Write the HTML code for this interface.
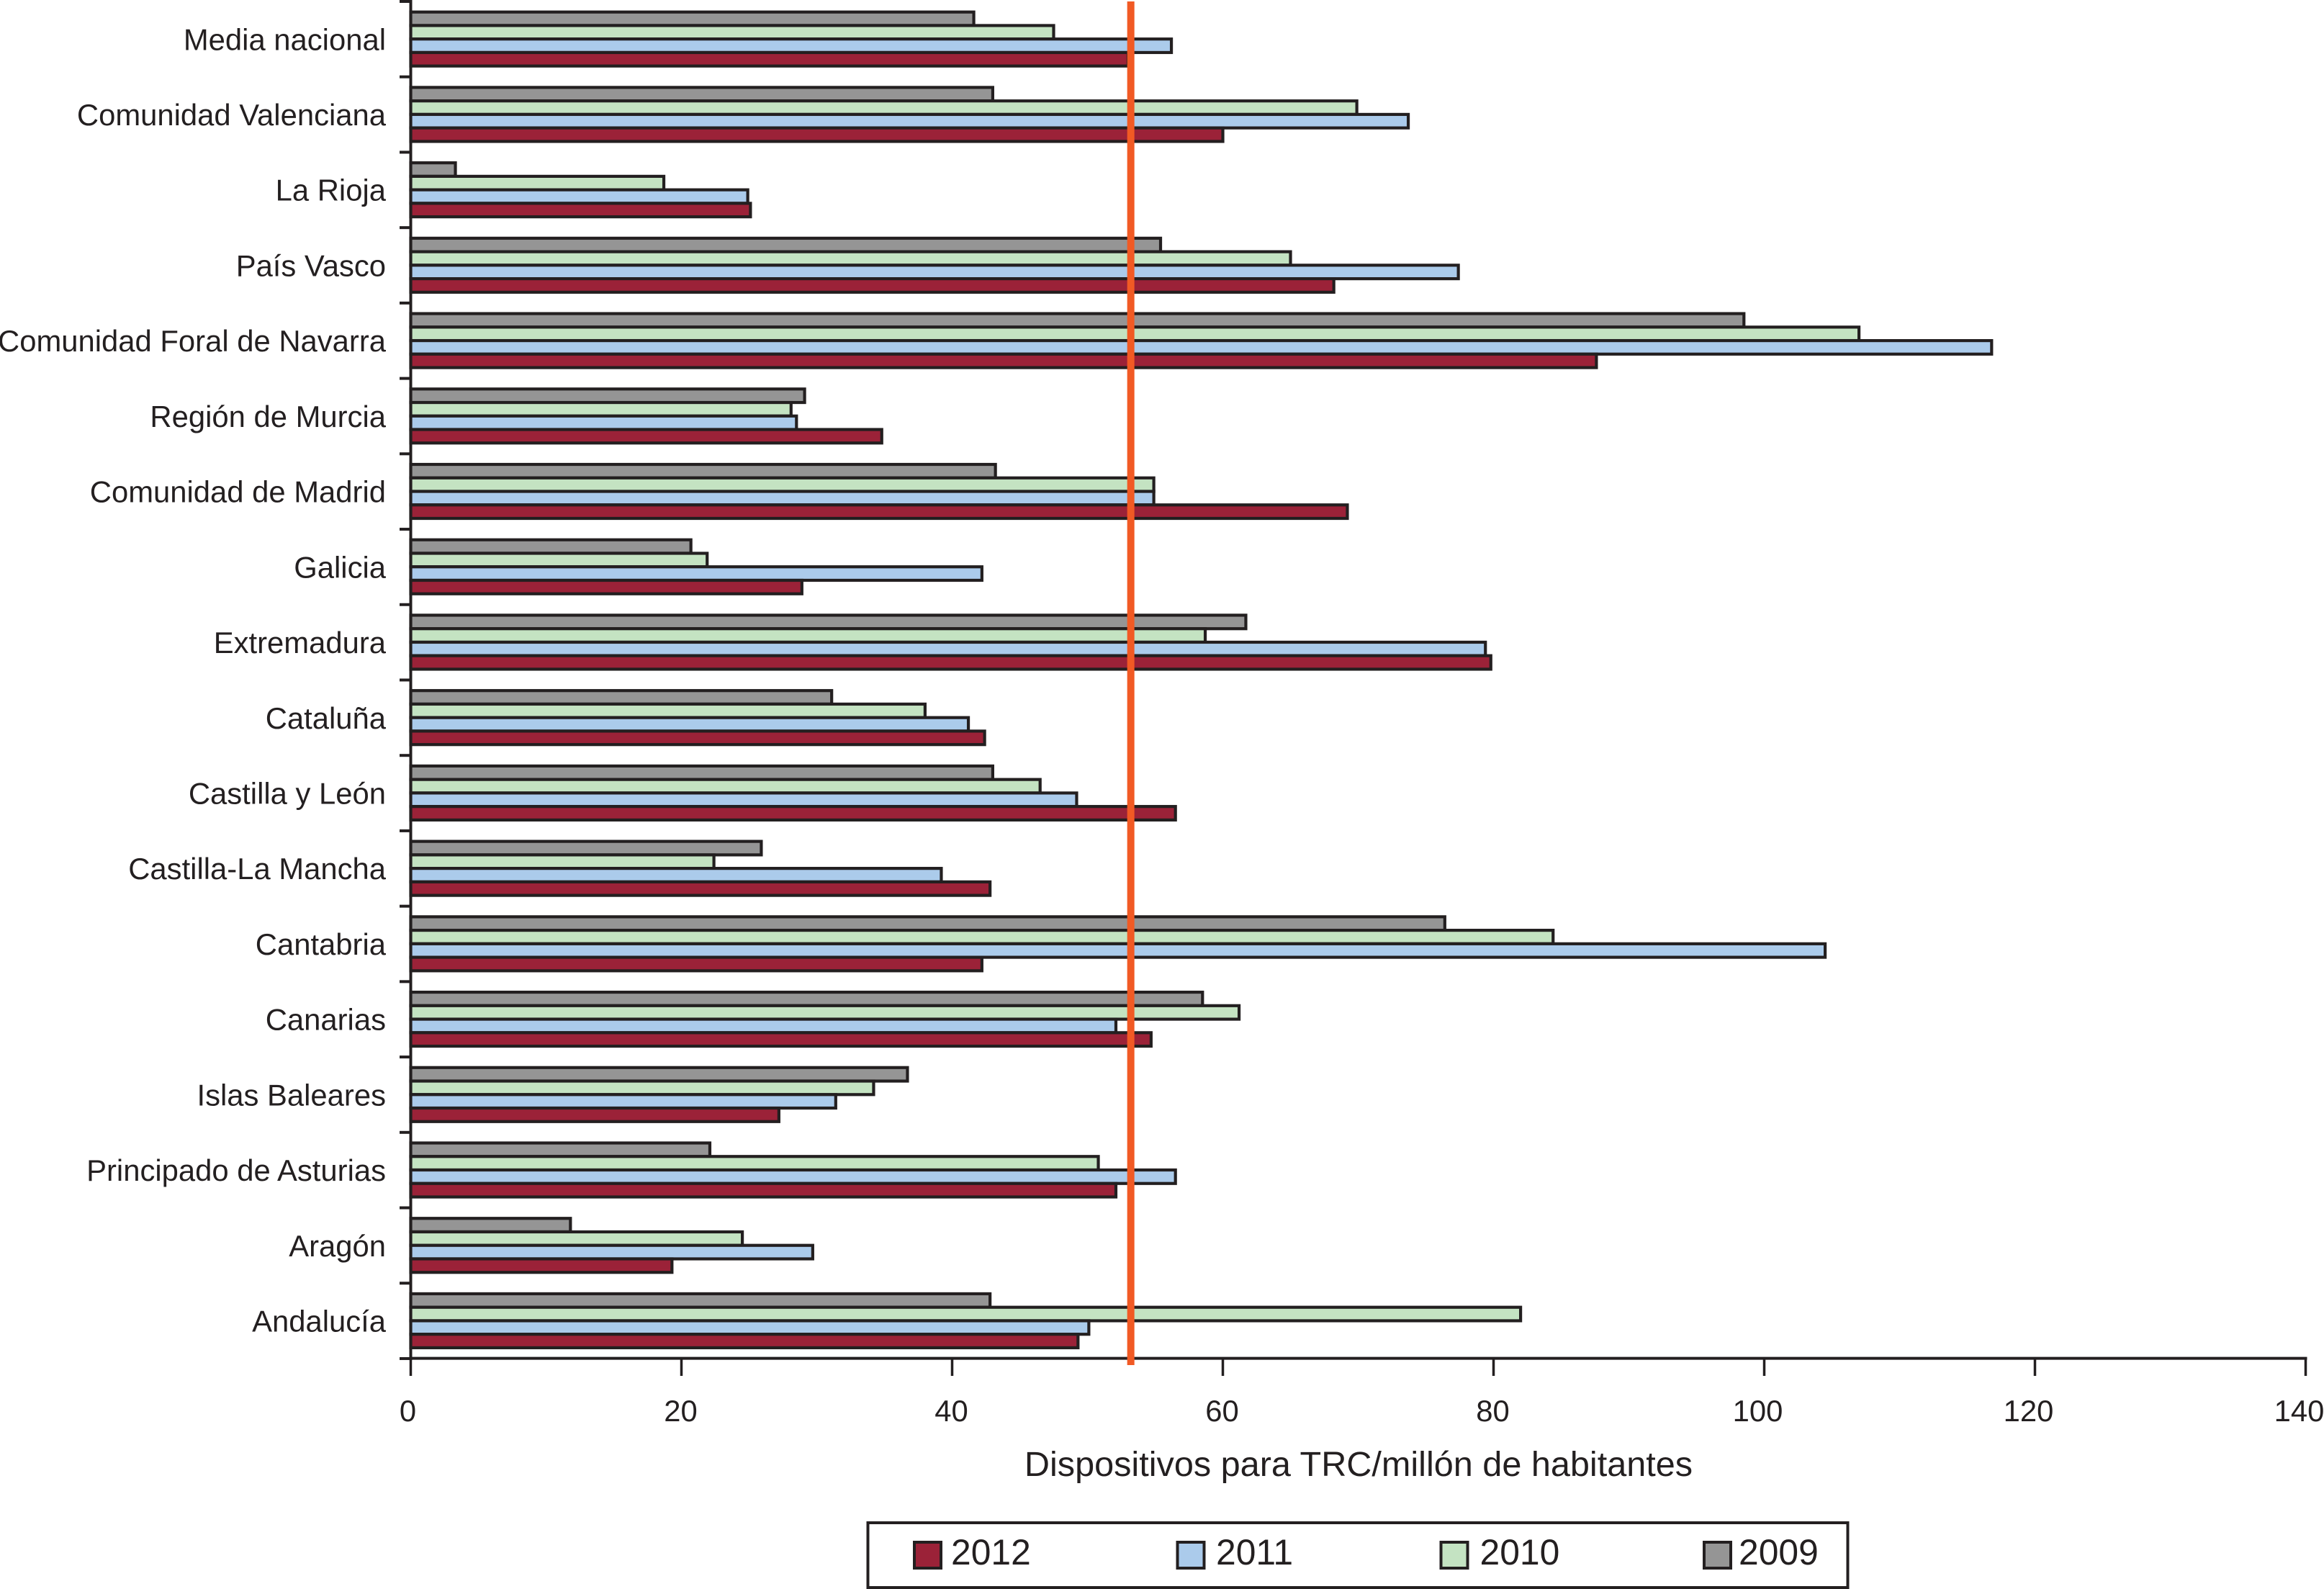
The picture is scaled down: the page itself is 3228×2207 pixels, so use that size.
<!DOCTYPE html>
<html lang="es">
<head>
<meta charset="utf-8">
<title>Dispositivos para TRC/millón de habitantes</title>
<style>
html,body{margin:0;padding:0;background:#fff;}
svg{display:block;}
text{font-family:"Liberation Sans",Arial,sans-serif;fill:#231f20;}
</style>
</head>
<body>
<svg id="chart" xmlns="http://www.w3.org/2000/svg" width="3228" height="2207" viewBox="0 0 3228 2207">
  <rect x="0" y="0" width="3228" height="2207" fill="#ffffff"/>
  <g id="bars"></g>
  <g id="y-axis"></g>
  <g id="x-axis"></g>
  <g id="reference"></g>
  <text x="1887" y="2050" font-size="48.6" text-anchor="middle">Dispositivos para TRC/millón de habitantes</text>
  <g id="legend">
    <rect x="1205.5" y="2115" width="1361" height="90" fill="#ffffff" stroke="#231f20" stroke-width="4"/>
  </g>
</svg>
<script>
const categories = ["Media nacional","Comunidad Valenciana","La Rioja","País Vasco","Comunidad Foral de Navarra","Región de Murcia","Comunidad de Madrid","Galicia","Extremadura","Cataluña","Castilla y León","Castilla-La Mancha","Cantabria","Canarias","Islas Baleares","Principado de Asturias","Aragón","Andalucía"];
const values2009 = [41.6,43.0,3.3,55.4,98.5,29.1,43.2,20.7,61.7,31.1,43.0,25.9,76.4,58.5,36.7,22.1,11.8,42.8];
const values2010 = [47.5,69.9,18.7,65.0,107.0,28.1,54.9,21.9,58.7,38.0,46.5,22.4,84.4,61.2,34.2,50.8,24.5,82.0];
const values2011 = [56.2,73.7,24.9,77.4,116.8,28.5,54.9,42.2,79.4,41.2,49.2,39.2,104.5,52.1,31.4,56.5,29.7,50.1];
const values2012 = [53.0,60.0,25.1,68.2,87.6,34.8,69.2,28.9,79.8,42.4,56.5,42.8,42.2,54.7,27.2,52.1,19.3,49.3];
const xTicks = [0,20,40,60,80,100,120,140];
const legendYears = ["2012","2011","2010","2009"];
const nationalMean = 53.2;

const NS = "http://www.w3.org/2000/svg";
const INK = "#231f20";
const seriesTopDown = [
  {year:"2009", values:values2009, fill:"#959595"},
  {year:"2010", values:values2010, fill:"#c4e3c2"},
  {year:"2011", values:values2011, fill:"#abcbeb"},
  {year:"2012", values:values2012, fill:"#9b2238"}
];
const fillByYear = {"2009":"#959595","2010":"#c4e3c2","2011":"#abcbeb","2012":"#9b2238"};

const X0 = 570.5, X_PER_UNIT = 18.8;
const Y0 = 2, BAND = 104.72, BAR_H = 18.75, BAR_PAD = 14.7;
function xScale(v){ return X0 + v * X_PER_UNIT; }
function bandTop(i){ return Y0 + i * BAND; }
function tickLabelShift(v){
  const digits = String(v).length;
  return digits === 1 ? -4 : (digits === 2 ? -1 : -9);
}
function make(tag, attrs){
  const el = document.createElementNS(NS, tag);
  for (const k in attrs) el.setAttribute(k, attrs[k]);
  return el;
}

const barsG = document.getElementById("bars");
categories.forEach(function(cat, i){
  const slug = cat.toLowerCase().normalize("NFD").replace(/[\u0300-\u036f]/g,"").replace(/[^a-z0-9]+/g,"-");
  seriesTopDown.forEach(function(s, j){
    const r = make("rect", {
      x: X0, y: bandTop(i) + BAR_PAD + j * BAR_H,
      width: xScale(s.values[i]) - X0, height: BAR_H,
      fill: s.fill, stroke: INK, "stroke-width": 4.2
    });
    
    
    barsG.appendChild(r);
  });
});

const yG = document.getElementById("y-axis");
const yLine = make("line", {x1:X0, x2:X0, y1:Y0 - 2, y2:bandTop(categories.length) + 2, stroke:INK, "stroke-width":4});


yG.appendChild(yLine);
for (let i = 0; i <= categories.length; i++){
  const t = make("line", {x1:555, x2:X0, y1:bandTop(i), y2:bandTop(i), stroke:INK, "stroke-width":4});
  
  
  yG.appendChild(t);
}
categories.forEach(function(cat, i){
  const t = make("text", {x:536, y:bandTop(i) + 67.3, "font-size":41.8, "text-anchor":"end"});
  t.textContent = cat;
  
  
  yG.appendChild(t);
});

const xG = document.getElementById("x-axis");
const axisY = bandTop(categories.length) - 0.3;
const xLine = make("line", {x1:X0 - 2, x2:xScale(xTicks[xTicks.length - 1]) + 2, y1:axisY, y2:axisY, stroke:INK, "stroke-width":4});


xG.appendChild(xLine);
xTicks.forEach(function(v){
  const t = make("line", {x1:xScale(v), x2:xScale(v), y1:axisY, y2:1911, stroke:INK, "stroke-width":3.5});
  
  
  xG.appendChild(t);
  const lab = make("text", {x:xScale(v) + tickLabelShift(v), y:1974, "font-size":41.8, "text-anchor":"middle"});
  lab.textContent = String(v);
  
  
  xG.appendChild(lab);
});

const refG = document.getElementById("reference");
const refLine = make("line", {x1:xScale(nationalMean), x2:xScale(nationalMean), y1:2, y2:1896, stroke:"#f15a24", "stroke-width":10});


refG.appendChild(refLine);

const legendG = document.getElementById("legend");
const swatchX = [1270, 1635.5, 2001.5, 2367];
const labelX = [1321, 1689, 2055.5, 2415];
legendYears.forEach(function(year, i){
  const sw = make("rect", {x:swatchX[i], y:2142, width:37, height:36, fill:fillByYear[year], stroke:INK, "stroke-width":4});
  
  
  legendG.appendChild(sw);
  const t = make("text", {x:labelX[i], y:2173, "font-size":49.8});
  t.textContent = year;
  
  
  legendG.appendChild(t);
});
</script>
</body>
</html>
